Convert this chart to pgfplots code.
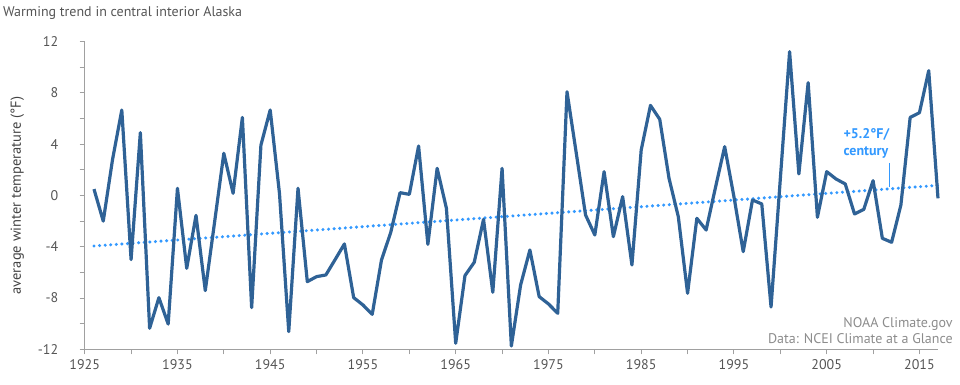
\documentclass[border=0pt]{standalone}
\usepackage{fontspec}
\setmainfont{PT Sans}
\usepackage{pgfplots}
\pgfplotsset{compat=1.18}
\definecolor{mainblue}{HTML}{2F6296}
\definecolor{trendblue}{HTML}{3399FF}
\definecolor{axisgray}{HTML}{A0A0A0}
\definecolor{ticktext}{HTML}{555555}
\definecolor{srcgray}{HTML}{8C8C8C}
\begin{document}
\begin{tikzpicture}
\path[use as bounding box] (0,0) rectangle (960bp,385bp);
\node[anchor=west, text=ticktext, font=\fontsize{14bp}{17bp}\selectfont, inner sep=0pt] at (3bp,372bp) {Warming trend in central interior Alaska};
\begin{axis}[
  at={(84.7bp,35.7bp)}, anchor=south west,
  scale only axis, width=853.3bp, height=307.6bp,
  xmin=1925, xmax=2017, ymin=-12, ymax=12,
  axis x line*=bottom, axis y line*=left,
  axis line style={axisgray, line width=1.2bp},
  tick align=outside,
  major tick length=5bp, minor tick length=5bp,
  every tick/.style={axisgray, line width=1bp},
  xtick={1925,1935,...,2015}, minor xtick={1930,1940,...,2010},
  ytick={-12,-8,...,12}, minor ytick={-10,-6,...,10},
  /pgf/number format/assume math mode=true,
  xticklabel style={/pgf/number format/1000 sep={}, text=ticktext, font=\fontsize{14bp}{17bp}\selectfont},
  yticklabel style={text=ticktext, font=\fontsize{14bp}{17bp}\selectfont},
  yticklabel shift=18bp,
  xticklabel shift=2bp,
  ylabel={average winter temperature (°F)},
  ylabel style={text=ticktext!80!black, font=\fontsize{14.5bp}{17bp}\selectfont, at={(axis description cs:0,0.5)}, anchor=center, yshift=67.5bp},
  clip=false,
]
\addplot[trendblue, line width=3.4bp, line cap=round, dash pattern=on 0pt off 5.6bp] coordinates {(1926,-3.94) (2017,0.79)};
\addplot[mainblue, line width=3.2bp, line join=round, no marks] coordinates {
(1926,0.5) (1927,-2.0) (1928,2.8) (1929,6.67) (1930,-5.0) (1931,4.9) (1932,-10.36) (1933,-7.97) (1934,-10.03) (1935,0.56)
(1936,-5.68) (1937,-1.55) (1938,-7.42) (1939,-2.1) (1940,3.29) (1941,0.17) (1942,6.09) (1943,-8.75) (1944,3.93) (1945,6.67)
(1946,0.17) (1947,-10.62) (1948,0.56) (1949,-6.72) (1950,-6.33) (1951,-6.2) (1952,-5.0) (1953,-3.78) (1954,-7.97) (1955,-8.54)
(1956,-9.27) (1957,-5.03) (1958,-2.87) (1959,0.22) (1960,0.09) (1961,3.86) (1962,-3.81) (1963,2.12) (1964,-1.0) (1965,-11.53)
(1966,-6.25) (1967,-5.21) (1968,-1.86) (1969,-7.55) (1970,2.12) (1971,-11.74) (1972,-6.98) (1973,-4.25) (1974,-7.89) (1975,-8.46)
(1976,-9.19) (1977,8.1) (1978,3.3) (1979,-1.52) (1980,-3.08) (1981,1.86) (1982,-3.21) (1983,-0.09) (1984,-5.42) (1985,3.55)
(1986,7.03) (1987,5.94) (1988,1.34) (1989,-1.65) (1990,-7.63) (1991,-1.78) (1992,-2.69) (1993,0.6) (1994,3.81) (1995,-0.1)
(1996,-4.38) (1997,-0.35) (1998,-0.66) (1999,-8.7) (2000,1.3) (2001,11.22) (2002,1.68) (2003,8.8) (2004,-1.7) (2005,1.86)
(2006,1.29) (2007,0.9) (2008,-1.44) (2009,-1.08) (2010,1.16) (2011,-3.34) (2012,-3.65) (2013,-0.74) (2014,6.09) (2015,6.46)
(2016,9.74) (2017,-0.22)
};
\draw[trendblue, line width=1.2bp] (axis cs:2011.8,2.55) -- (axis cs:2011.8,0.7);
\node[anchor=south west, align=left, text=trendblue, font=\bfseries\fontsize{14bp}{17bp}\selectfont, inner sep=0pt] at (axis cs:2006.8,2.85) {+5.2°F/\\century};
\node[anchor=south east, align=right, text=srcgray, font=\fontsize{14bp}{15.5bp}\selectfont, inner sep=0pt] at (axis cs:2018.6,-11.55) {NOAA Climate.gov\\Data: NCEI Climate at a Glance};
\end{axis}
\end{tikzpicture}
\end{document}
